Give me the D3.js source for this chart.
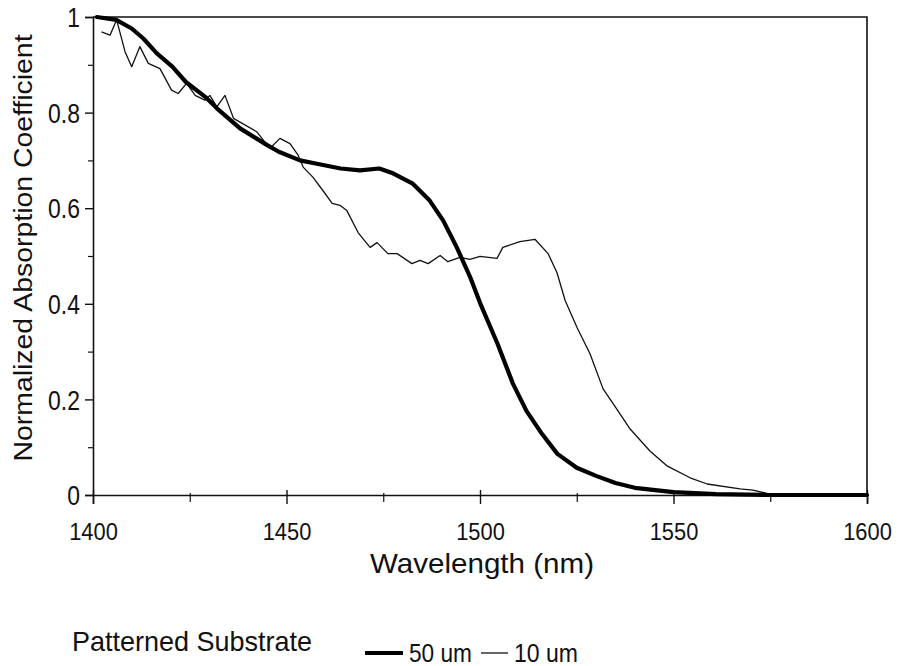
<!DOCTYPE html>
<html>
<head>
<meta charset="utf-8">
<script src="https://cdn.jsdelivr.net/npm/d3@7"></script>
<style>
  body { margin: 0; background: #fff; }
  text { font-family: "Liberation Sans", Arial, sans-serif; fill: #111; }
</style>
</head>
<body>
<svg id="chart" width="898" height="666"></svg>
<script>
// 50 um patterned substrate (thick line)
const wl50 = [1401, 1406, 1410, 1413, 1416.5, 1420.5, 1424, 1429, 1432, 1438, 1445, 1448, 1453.5, 1458.5,
  1464, 1469, 1474, 1477.5, 1482.5, 1487, 1490.5, 1494, 1497.5, 1500, 1504.5, 1508.5, 1512, 1516, 1520,
  1525, 1530, 1535, 1540, 1550, 1561, 1574, 1591, 1600]
const abs50 = [1.000, 0.994, 0.976, 0.955, 0.924, 0.896, 0.864, 0.833, 0.809, 0.767, 0.732, 0.718, 0.700, 0.692,
  0.683, 0.679, 0.683, 0.673, 0.652, 0.616, 0.574, 0.518, 0.455, 0.402, 0.317, 0.233, 0.176, 0.128, 0.086,
  0.057, 0.040, 0.025, 0.015, 0.006, 0.002, 0.0, 0.0, 0.0]

// 10 um patterned substrate (thin line)
const wl10 = [1402.2, 1404.4, 1406.1, 1408.3, 1410, 1412.1, 1414.3, 1417.3, 1420.3, 1422, 1424.2, 1426.4,
  1428.9, 1430.2, 1432, 1434.1, 1436.3, 1442.3, 1445.7, 1448.3, 1450.9, 1453, 1454.3, 1456.8, 1459.4,
  1461.8, 1463.8, 1465.6, 1468.5, 1471.6, 1473.4, 1476.2, 1478.6, 1482.4, 1484.5, 1486.6, 1489.7, 1491.7,
  1494.8, 1497.4, 1500, 1504.4, 1505.9, 1510.3, 1514.2, 1517.6, 1519.9, 1522, 1525.1, 1528.4, 1531.8,
  1534.4, 1538.8, 1543.9, 1548.3, 1554.3, 1558.7, 1567.2, 1570.5, 1574.9, 1579.3, 1591.2, 1600]
const abs10 = [0.969, 0.962, 0.994, 0.927, 0.896, 0.938, 0.903, 0.892, 0.847, 0.840, 0.861, 0.836,
  0.826, 0.836, 0.812, 0.836, 0.788, 0.760, 0.725, 0.746, 0.735, 0.711, 0.686, 0.665, 0.637,
  0.610, 0.606, 0.595, 0.549, 0.518, 0.528, 0.505, 0.505, 0.484, 0.491, 0.484, 0.501, 0.488,
  0.497, 0.493, 0.499, 0.495, 0.518, 0.530, 0.535, 0.505, 0.465, 0.407, 0.350, 0.296, 0.222,
  0.191, 0.138, 0.092, 0.061, 0.036, 0.023, 0.013, 0.010, 0.002, 0.0, 0.0, 0.0]

const xTicks = [1400, 1450, 1500, 1550, 1600]
const xMinor = [1425, 1475, 1525, 1575]
const yTicks = [0, 0.2, 0.4, 0.6, 0.8, 1]
const yMinor = [0.1, 0.3, 0.5, 0.7, 0.9]

const svg = d3.select('#chart')

const x = d3.scaleLinear().domain([1400, 1600]).range([93, 867])
const y = d3.scaleLinear().domain([0, 1]).range([495, 17])

// squeeze text a bit, the original lettering is narrow
function squeeze(sel, k) {
  sel.each(function () {
    const w = this.getComputedTextLength()
    d3.select(this).attr('textLength', w * k).attr('lengthAdjust', 'spacingAndGlyphs')
  })
}

// top and right frame
svg.append('path')
  .attr('d', `M${x(1400)},${y(1)}H${x(1600)}V${y(0)}`)
  .attr('fill', 'none').attr('stroke', '#111').attr('stroke-width', 1.6)

// x axis
const gx = svg.append('g').attr('transform', `translate(0,${y(0)})`)
  .call(d3.axisBottom(x).tickValues(xTicks).tickFormat(d3.format('d')).tickSizeOuter(0).tickSize(9))
gx.select('.domain').attr('stroke', '#111').attr('stroke-width', 1.6)
gx.selectAll('.tick line').attr('y1', -5).attr('y2', 9).attr('stroke', '#111').attr('stroke-width', 1.4)
gx.selectAll('.tick text').attr('y', 45).attr('dy', 0).style('font-size', '24px').attr('fill', '#111')
squeeze(gx.selectAll('.tick text'), 0.91)

const gxm = svg.append('g').attr('transform', `translate(0,${y(0)})`)
  .call(d3.axisBottom(x).tickValues(xMinor).tickFormat('').tickSizeOuter(0).tickSize(7))
gxm.select('.domain').remove()
gxm.selectAll('.tick line').attr('y1', -2).attr('stroke', '#111').attr('stroke-width', 1.2)

// y axis
const gy = svg.append('g').attr('transform', `translate(${x(1400)},0)`)
  .call(d3.axisLeft(y).tickValues(yTicks).tickFormat(d => String(d)).tickSizeOuter(0).tickSize(8).tickPadding(5))
gy.select('.domain').attr('stroke', '#111').attr('stroke-width', 1.6)
gy.selectAll('.tick line').attr('stroke', '#111').attr('stroke-width', 1.4)
gy.selectAll('.tick text').style('font-size', '27px').attr('dy', '0.36em').attr('fill', '#111')
squeeze(gy.selectAll('.tick text'), 0.85)

const gym = svg.append('g').attr('transform', `translate(${x(1400)},0)`)
  .call(d3.axisLeft(y).tickValues(yMinor).tickFormat('').tickSizeOuter(0).tickSize(5))
gym.select('.domain').remove()
gym.selectAll('.tick line').attr('stroke', '#111').attr('stroke-width', 1.2)

// axis titles
svg.append('text')
  .attr('x', 482).attr('y', 573).attr('text-anchor', 'middle')
  .style('font-size', '28px').attr('textLength', 224).attr('lengthAdjust', 'spacingAndGlyphs')
  .text('Wavelength (nm)')

svg.append('text')
  .attr('transform', 'translate(32,248) rotate(-90)').attr('text-anchor', 'middle')
  .style('font-size', '26px').attr('textLength', 427).attr('lengthAdjust', 'spacingAndGlyphs')
  .text('Normalized Absorption Coefficient')

// curves
const line = d3.line().x(d => x(d[0])).y(d => y(d[1]))

svg.append('path')
  .datum(d3.zip(wl10, abs10))
  .attr('d', line).attr('fill', 'none')
  .attr('stroke', '#111').attr('stroke-width', 1.3).attr('stroke-linejoin', 'round')

svg.append('path')
  .datum(d3.zip(wl50, abs50))
  .attr('d', line).attr('fill', 'none')
  .attr('stroke', '#000').attr('stroke-width', 4.2).attr('stroke-linejoin', 'round').attr('stroke-linecap', 'round')

// legend
svg.append('text')
  .attr('x', 72).attr('y', 651)
  .style('font-size', '28px').attr('textLength', 240).attr('lengthAdjust', 'spacingAndGlyphs')
  .text('Patterned Substrate')

svg.append('line').attr('x1', 365).attr('x2', 403).attr('y1', 653).attr('y2', 653)
  .attr('stroke', '#000').attr('stroke-width', 4)
svg.append('text').attr('x', 409).attr('y', 662)
  .style('font-size', '25px').attr('textLength', 63).attr('lengthAdjust', 'spacingAndGlyphs')
  .text('50 um')

svg.append('line').attr('x1', 481).attr('x2', 508).attr('y1', 653).attr('y2', 653)
  .attr('stroke', '#111').attr('stroke-width', 1.3)
svg.append('text').attr('x', 514).attr('y', 662)
  .style('font-size', '25px').attr('textLength', 64).attr('lengthAdjust', 'spacingAndGlyphs')
  .text('10 um')
</script>
</body>
</html>
